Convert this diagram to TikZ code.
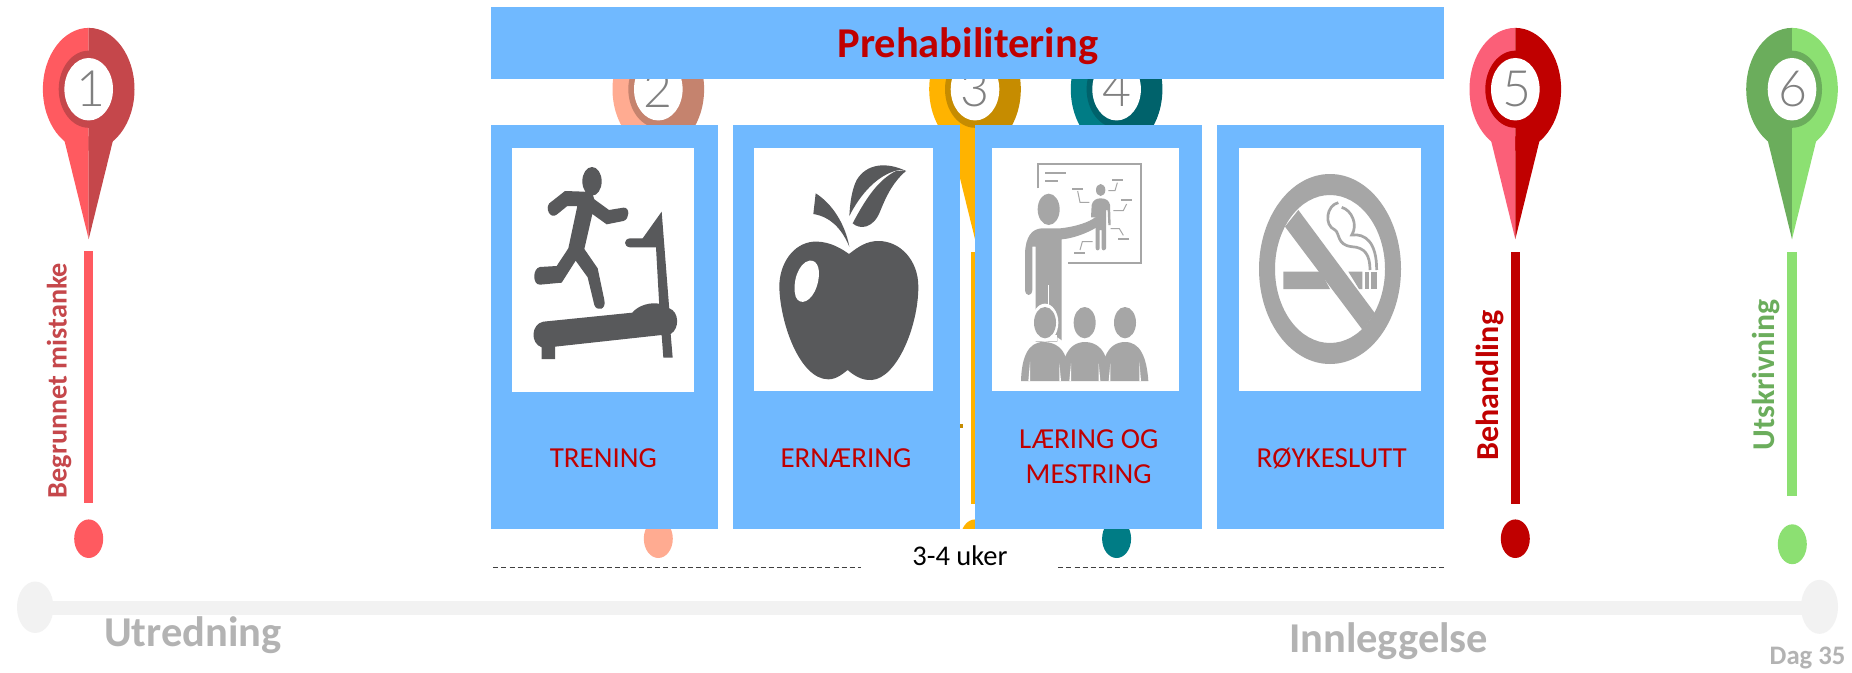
\documentclass[tikz,border=0pt]{standalone}
\usepackage{fontspec}
\setmainfont{Carlito}
\newfontfamily\numfont{Lato Light}
\definecolor{cardblue}{HTML}{70B9FF}
\definecolor{deepred}{HTML}{C00000}
\definecolor{iconA}{HTML}{58595B}
\definecolor{iconB}{HTML}{A6A6A6}
\definecolor{track}{HTML}{F2F2F2}
\definecolor{fadetext}{HTML}{B3B3B3}
\definecolor{numgray}{HTML}{808080}
\definecolor{dashgray}{HTML}{404040}
\definecolor{oneL}{HTML}{FF5A60}\definecolor{oneR}{HTML}{C5474B}
\definecolor{twoL}{HTML}{FFAB91}\definecolor{twoR}{HTML}{C5836E}
\definecolor{thrL}{HTML}{FFB300}\definecolor{thrR}{HTML}{C68C00}
\definecolor{fouL}{HTML}{007C85}\definecolor{fouR}{HTML}{00626B}
\definecolor{fivL}{HTML}{FB5F78}\definecolor{fivR}{HTML}{C00000}
\definecolor{sixL}{HTML}{6BAD5C}\definecolor{sixR}{HTML}{8CE072}
\tikzset{
  cardbox/.style={fill=cardblue,draw=none},
  imgbox/.style={fill=white,draw=none},
  txt/.style={inner sep=0pt,outer sep=0pt},
  cardlabel/.style={txt,text=deepred,font=\fontsize{29}{29}\selectfont,anchor=base,align=center},
  sidelabel/.style={txt,font=\bfseries\fontsize{#1}{#1}\selectfont,rotate=90,anchor=base west},
  stagelabel/.style={txt,text=fadetext,font=\bfseries\fontsize{42.5}{42.5}\selectfont,anchor=base west},
  numlabel/.style={txt,text=numgray,font=\numfont\fontsize{50}{50}\selectfont,anchor=center},
  dashline/.style={draw=dashgray,line width=1.1pt,dash pattern=on 5pt off 3.1pt},
  iconscale/.style={x=0.33333pt,y=-0.33333pt},
  boardline/.style={draw=iconB,line width=1.7pt},
  tagline/.style={draw=iconB,line width=2pt},
  leaderline/.style={draw=iconB,line width=1pt}
}
% #1 x, #2 left colour, #3 right colour, #4 ring colour, #5 digit, #6 digit x, #7 name
\newcommand{\mypin}[7]{%
  \begin{scope}
    \clip (#1-60,0) rectangle (#1,200);
    \fill[#2] (#1,69.4) ellipse [x radius=45.8,y radius=47.7];
    \fill[#2] (#1-25.3,106) -- (#1,186) -- (#1+25.3,106) -- cycle;
  \end{scope}
  \begin{scope}
    \clip (#1,0) rectangle (#1+60,200);
    \fill[#3] (#1,69.4) ellipse [x radius=45.8,y radius=47.7];
    \fill[#3] (#1-25.3,106) -- (#1,186) -- (#1+25.3,106) -- cycle;
  \end{scope}
  \fill[#4] (#1,69.4) circle [radius=30];
  \fill[white] (#1,69.4) circle [radius=24.3];
  \node[numlabel] (#7) at (#6,69.4) {#5};
}
\begin{document}
\begin{tikzpicture}[x=1pt,y=-1.2857pt]
\useasboundingbox (0,0) rectangle (1852,522.67);
\fill[white] (0,0) rectangle (1852,522.67);

% timeline
\fill[track] (35,467.3) rectangle (1820,478.3);
\fill[track] (35.2,472.3) ellipse [x radius=18.2,y radius=20];
\fill[track] (1819.5,472) ellipse [x radius=18.5,y radius=21];
\node[stagelabel] (utr) at (104,503) {Utredning};
\node[stagelabel] (inn) at (1289,507.3) {Innleggelse};
\node[txt,text=fadetext,font=\bfseries\fontsize{26.7}{26.7}\selectfont,anchor=base west] (dag) at (1769.7,516.7) {Dag 35};

% pins
\mypin{88.7}{oneL}{oneR}{oneR}{1}{91}{pinA}
\mypin{658.3}{twoL}{twoR}{twoR}{2}{658.3}{pinB}
\mypin{975}{thrL}{thrR}{thrR}{3}{975}{pinC}
\mypin{1116.6}{fouL}{fouR}{fouR}{4}{1116.6}{pinD}
\mypin{1515.3}{fivL}{fivR}{fivR}{5}{1516.7}{pinE}
\mypin{1792}{sixL}{sixR}{sixL}{6}{1792.7}{pinF}

% bars and dots
\fill[oneL] (84,195.3) rectangle (93,391.3);
\fill[thrL] (971,196) rectangle (980,392);
\fill[fivR] (1511,196) rectangle (1520,392);
\fill[sixR] (1787,196) rectangle (1797,385.7);
\fill[oneL] (88.7,419) ellipse [x radius=14.5,y radius=15];
\fill[twoL] (658.3,419) ellipse [x radius=14.5,y radius=15];
\fill[thrL] (975,419) ellipse [x radius=14.5,y radius=15];
\fill[fouL] (1116.6,419) ellipse [x radius=14.5,y radius=15];
\fill[fivR] (1515.3,419) ellipse [x radius=14.5,y radius=15];
\fill[sixR] (1792.3,423.3) ellipse [x radius=14.5,y radius=15.5];
\fill[thrR] (960,330) rectangle (962.5,332.5);

% side labels
\node[sidelabel=28.2,text=oneR] (begr) at (66.7,387.5) {Begrunnet mistanke};
\node[sidelabel=32,text=fivR] (beh) at (1498,358) {Behandling};
\node[sidelabel=31.7,text=sixL] (utsk) at (1774,350) {Utskrivning};

% banner and cards
\fill[cardbox] (491,5.3) rectangle (1444,61.3);
\node[txt,text=deepred,font=\bfseries\fontsize{42.5}{42.5}\selectfont,anchor=base] (title) at (967.8,44.8) {Prehabilitering};
\fill[cardbox] (491,97.3) rectangle (718,411.3);
\fill[cardbox] (733,97.3) rectangle (960,411.3);
\fill[cardbox] (975,97.3) rectangle (1202,411.3);
\fill[cardbox] (1217,97.3) rectangle (1444,411.3);
\fill[imgbox] (512,115) rectangle (694,305);
\fill[imgbox] (754,115) rectangle (933,304);
\fill[imgbox] (992,115) rectangle (1179,304);
\fill[imgbox] (1239,115) rectangle (1421,304);
\node[cardlabel] (trening) at (603.3,363.5) {TRENING};
\node[cardlabel] (ernaering) at (846,363.5) {ERNÆRING};
\node[cardlabel] (laering) at (1088.7,348.5) {LÆRING OG};
\node[cardlabel] (mestring) at (1088.7,375.8) {MESTRING};
\node[cardlabel] (royke) at (1331.7,363.5) {RØYKESLUTT};

% duration
\fill[white] (861,411.3) rectangle (1058,455);
\coordinate (dA) at (493.3,441.3);
\coordinate (dB) at (861,441.3);
\coordinate (dC) at (1058.3,441.3);
\coordinate (dD) at (1444,441.3);
\draw[dashline] (dA) -- (dB);
\draw[dashline] (dC) -- (dD);
\node[txt,text=black,font=\fontsize{28.5}{28.5}\selectfont,anchor=base] (uker) at (960,439.9) {3-4 uker};

% treadmill icon
\begin{scope}[shift={(505pt,-140pt)},iconscale]
  \fill[iconA] (261,124) ellipse [x radius=29,y radius=43];
  \fill[iconA] (237,155) -- (180,153) -- (133,190) .. controls (120,205) and (135,238) .. (155,224)
    -- (187,198) -- (217,198) -- (190,325) -- (155,378) -- (105,381)
    .. controls (82,385) and (82,435) .. (105,434) -- (170,428) -- (212,362) -- (248,412) -- (268,495)
    .. controls (275,515) and (305,510) .. (298,480) -- (278,385) -- (238,327) -- (262,222) -- (305,253) -- (355,243)
    .. controls (375,238) and (375,200) .. (355,203) -- (312,210) -- (268,178) -- (262,160) -- cycle;
  \fill[iconA] (413,295) -- (470,215) -- (493,510) -- (463,500) -- (453,322) -- (375,322)
    .. controls (355,320) and (355,297) .. (375,295) -- cycle;
  \fill[iconA] (115,545) -- (382,518) .. controls (400,495) and (440,485) .. (465,492) -- (493,505)
    .. controls (522,515) and (525,565) .. (497,582) -- (503,653) -- (475,653) -- (470,585) -- (150,620) -- (150,657) -- (110,657) -- (110,622)
    .. controls (75,610) and (78,552) .. (115,545) -- cycle;
\end{scope}

% apple icon
\begin{scope}[shift={(750pt,-140pt)},iconscale]
  \fill[iconA] (297,342) .. controls (260,315) and (225,303) .. (190,305)
    .. controls (130,310) and (88,370) .. (88,440)
    .. controls (90,550) and (150,718) .. (235,718)
    .. controls (260,718) and (280,700) .. (293,690)
    .. controls (310,705) and (335,722) .. (365,720)
    .. controls (440,715) and (505,560) .. (505,440)
    .. controls (505,360) and (450,303) .. (385,303)
    .. controls (350,303) and (325,320) .. (297,342) -- cycle;
  \fill[white] (178,362) .. controls (205,358) and (215,395) .. (200,440)
    .. controls (185,485) and (150,500) .. (137,470)
    .. controls (125,430) and (145,368) .. (178,362) -- cycle;
  \fill[iconA] (197,160) -- (190,222) .. controls (240,230) and (275,265) .. (298,320)
    .. controls (285,250) and (245,190) .. (197,160) -- cycle;
  \fill[iconA] (468,93) .. controls (410,65) and (350,70) .. (320,120)
    .. controls (305,150) and (300,190) .. (298,228)
    .. controls (330,165) and (380,105) .. (445,90) -- cycle;
  \fill[iconA] (468,93) -- (440,92) .. controls (380,120) and (340,190) .. (308,250)
    .. controls (330,270) and (370,265) .. (390,215)
    .. controls (410,165) and (430,125) .. (468,93) -- cycle;
\end{scope}

% teacher icon
\begin{scope}[shift={(980pt,-130pt)},iconscale]
  \draw[boardline] (175,175) -- (175,103) -- (483,103) -- (483,400) -- (265,400);
  \draw[tagline] (195,130) -- (258,130) (195,152) -- (233,152) (276,176) -- (308,176) (397,150) -- (430,150)
     (423,210) -- (455,210) (415,326) -- (447,326) (283,368) -- (316,368);
  \draw[leaderline] (293,183) -- (300,217) -- (328,217) (412,158) -- (405,182) -- (385,182)
     (440,222) -- (430,242) -- (400,242) (392,296) -- (418,296) -- (430,316) (300,360) -- (307,335) -- (338,335);
  \fill[iconB] (362,180) ellipse [x radius=14,y radius=18];
  \fill[iconB] (333,262) -- (335,225) .. controls (338,210) and (350,205) .. (362,205)
    .. controls (378,205) and (388,212) .. (390,225) -- (392,285) -- (385,285) -- (383,240) -- (378,240) -- (378,355)
    .. controls (376,363) and (366,363) .. (365,355) -- (365,300) -- (359,300) -- (359,355)
    .. controls (358,363) and (348,363) .. (347,355) -- (347,262) -- cycle;
  \fill[iconB] (206,238) ellipse [x radius=33,y radius=47];
  \fill[iconB] (135,480) -- (135,370) .. controls (137,320) and (155,297) .. (185,295)
    -- (240,295) .. controls (290,290) and (330,275) .. (345,262)
    .. controls (358,255) and (365,285) .. (350,292)
    .. controls (320,310) and (280,325) .. (245,328) -- (245,635) -- (167,635) -- (167,350) -- (157,350) -- (157,480)
    .. controls (155,500) and (137,500) .. (135,480) -- cycle;
  \fill[white] (204,465) rectangle (208,525);
  \fill[white] (195,578) ellipse [x radius=40,y radius=57];
  \fill[white] (150,615) rectangle (232,632);
  \fill[white] (232,622) -- (246,632) -- (246,640) -- (232,640) -- cycle;
  \fill[iconB] (195,578) ellipse [x radius=33,y radius=47];
  \fill[iconB] (314,578) ellipse [x radius=33,y radius=47];
  \fill[iconB] (435,578) ellipse [x radius=33,y radius=47];
  \fill[iconB] (123,753) .. controls (125,680) and (145,636) .. (190,636)
    .. controls (230,636) and (250,660) .. (256,680)
    .. controls (265,655) and (285,636) .. (315,636)
    .. controls (350,636) and (370,660) .. (376,680)
    .. controls (385,655) and (405,636) .. (435,636)
    .. controls (480,636) and (500,680) .. (505,753) -- cycle;
  \fill[white] (145,753) -- (150,695) -- (150,753) -- cycle;
  \fill[white] (238,753) -- (238,700) -- (243,753) -- cycle;
  \fill[white] (268,753) -- (273,700) -- (273,753) -- cycle;
  \fill[white] (356,753) -- (356,700) -- (361,753) -- cycle;
  \fill[white] (386,753) -- (391,700) -- (391,753) -- cycle;
  \fill[white] (478,753) -- (478,695) -- (483,753) -- cycle;
\end{scope}

% no smoking icon
\begin{scope}[shift={(1230pt,-130pt)},iconscale]
  \fill[iconB,even odd rule] (300,417) ellipse [x radius=213,y radius=285] (300,417) ellipse [x radius=165,y radius=222];
  \fill[iconB] (160,425) -- (272,425) -- (300,477) -- (160,477) -- cycle;
  \fill[iconB] (355,425) -- (397,425) -- (397,477) -- (387,477) -- cycle;
  \fill[iconB] (405,425) rectangle (416,477);
  \fill[iconB] (424,425) rectangle (440,477);
  \fill[iconB] (205,240) -- (435,550) -- (398,600) -- (165,290) -- cycle;
  \draw[draw=iconB,line width=2.7pt] (325,218) .. controls (290,225) and (280,285) .. (315,300)
    .. controls (330,310) and (320,345) .. (365,350) .. controls (405,352) and (420,375) .. (420,420);
  \draw[draw=iconB,line width=2.7pt] (335,232) .. controls (365,240) and (385,285) .. (365,315)
    .. controls (405,310) and (440,335) .. (440,420);
\end{scope}
\end{tikzpicture}
\end{document}
